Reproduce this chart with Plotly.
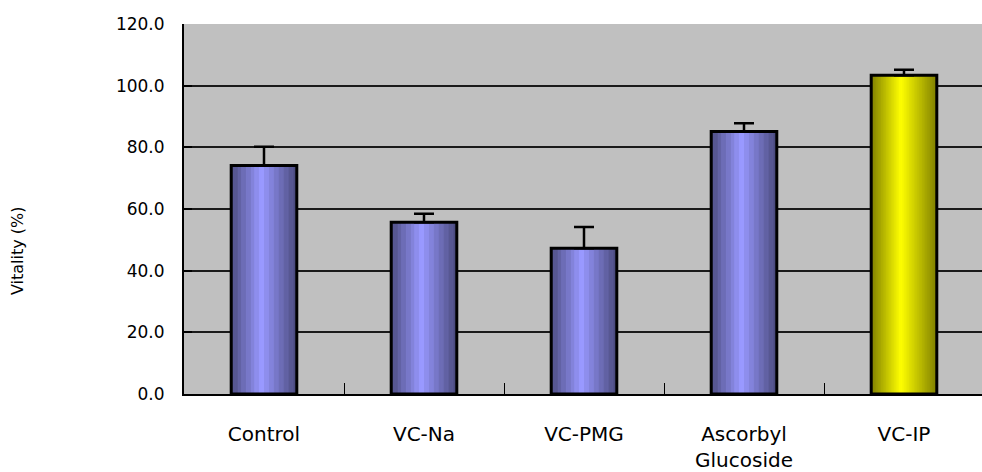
import plotly.graph_objects as go

# ---- data ----
categories = ["Control", "VC-Na", "VC-PMG", "Ascorbyl<br>Glucoside", "VC-IP"]
vitality = [74.1, 55.7, 47.3, 85.1, 103.4]
error_plus = [6.1, 2.8, 6.9, 2.7, 1.8]
y_tick_values = [0, 20, 40, 60, 80, 100, 120]

# ---- style ----
BAR_WIDTH = 0.41
N_STRIPS = 40
PEAK = 0.45
base_rgb = [(153, 153, 255)] * 4 + [(255, 255, 0)]
banded = [True] * 4 + [False]


def shade(rgb, t, band):
    d = PEAK if t < PEAK else 1 - PEAK
    f = 1 - 0.5 * abs(t - PEAK) / d
    if band:
        f = 0.5 + round((f - 0.5) * 14) / 14
    return "rgb(%d,%d,%d)" % tuple(round(c * f) for c in rgb)


fig = go.Figure()
step = BAR_WIDTH / N_STRIPS
for i in range(N_STRIPS):
    t = (i + 0.5) / N_STRIPS
    colors = [shade(rgb, t, b) for rgb, b in zip(base_rgb, banded)]
    fig.add_trace(go.Bar(
        x=categories, y=vitality,
        offset=-BAR_WIDTH / 2 + i * step, width=BAR_WIDTH - i * step,
        marker=dict(color=colors, line=dict(width=0)),
        hoverinfo="skip", showlegend=False))

fig.add_trace(go.Bar(
    x=categories, y=vitality,
    offset=-BAR_WIDTH / 2, width=BAR_WIDTH,
    marker=dict(color="rgba(0,0,0,0)", line=dict(color="black", width=3)),
    error_y=dict(type="data", symmetric=False, array=error_plus,
                 arrayminus=[0] * len(vitality), color="black",
                 thickness=2.5, width=10),
    showlegend=False))

fig.update_layout(
    width=982, height=472,
    margin=dict(l=184, r=0, t=24, b=78),
    paper_bgcolor="white", plot_bgcolor="#C0C0C0",
    barmode="overlay",
    font=dict(family="DejaVu Sans", color="black"),
)
fig.update_xaxes(
    type="category", range=[-0.5, 4.4875], automargin=False,
    showline=True, linecolor="black", linewidth=2,
    ticks="inside", tickson="boundaries", ticklen=11,
    tickcolor="black", tickwidth=1, showgrid=False,
    tickfont=dict(size=20), ticklabelstandoff=21)
fig.update_yaxes(
    range=[0, 120], tickvals=y_tick_values, tickformat=".1f",
    automargin=False,
    showline=True, linecolor="black", linewidth=2,
    gridcolor="#1a1a1a", gridwidth=1.5,
    ticks="inside", ticklen=8, tickcolor="black", tickwidth=2,
    tickfont=dict(size=17), ticklabelstandoff=14, zeroline=False)

fig.add_annotation(
    text="Vitality (%)", textangle=-90, showarrow=False,
    xref="paper", yref="paper",
    x=(18 - 184) / 798, y=(394 - 251) / 370,
    xanchor="center", yanchor="middle",
    font=dict(size=16))

fig.write_html(
    "out.html",
    config={"displayModeBar": False},
    post_script="document.body.style.margin='0';document.body.style.overflow='hidden';")
